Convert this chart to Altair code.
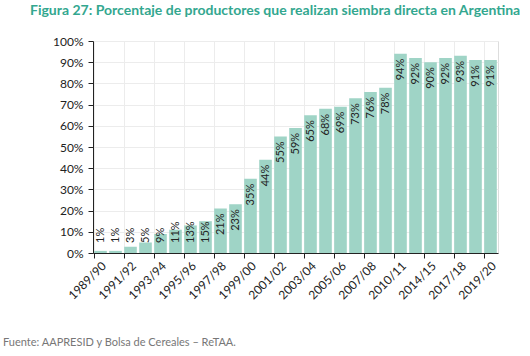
import altair as alt
import pandas as pd

seasons = ["1989/90", "1990/91", "1991/92", "1992/93", "1993/94", "1994/95",
           "1995/96", "1996/97", "1997/98", "1998/99", "1999/00", "2000/01",
           "2001/02", "2002/03", "2003/04", "2004/05", "2005/06", "2006/07",
           "2007/08", "2008/09", "2010/11", "2012/13", "2014/15", "2016/17",
           "2017/18", "2018/19", "2019/20"]
percent = [1, 1, 3, 5, 9, 11, 13, 15, 21, 23, 35, 44, 55, 59, 65, 68, 69, 73,
           76, 78, 94, 92, 90, 92, 93, 91, 91]
shown_labels = ["1989/90", "1991/92", "1993/94", "1995/96", "1997/98", "1999/00",
                "2001/02", "2003/04", "2005/06", "2007/08", "2010/11", "2014/15",
                "2017/18", "2019/20"]
y_ticks = [0, 0.1, 0.2, 0.3, 0.4, 0.5, 0.6, 0.7, 0.8, 0.9, 1.0]

title_text = "Figura 27: Porcentaje de productores que realizan siembra directa en Argentina"
footer_text = "Fuente: AAPRESID y Bolsa de Cereales \u2013 ReTAA."

df = pd.DataFrame({"season": seasons, "value": [p / 100 for p in percent]})

arr = "[" + ",".join("'" + s + "'" for s in shown_labels) + "]"
test = f"indexof({arr}, datum.value) >= 0"

x_enc = alt.X(
    "season:N", sort=None, title=None,
    scale=alt.Scale(paddingInner=0.16, paddingOuter=0.08),
    axis=alt.Axis(
        bandPosition=0,
        labelAngle=-45,
        labelExpr=f"{test} ? datum.label : ''",
        tickOpacity={"condition": {"test": test, "value": 1}, "value": 0},
        gridOpacity={"condition": {"test": test, "value": 1}, "value": 0},
        grid=True, gridColor="#ececec",
        tickSize=5, tickColor="#222", domainColor="#222",
        labelFont="Lato", labelFontSize=12, labelColor="#222",
        labelPadding=2, labelOverlap=False,
    ),
)


def y_axis():
    return alt.Axis(
        format=".0%", values=y_ticks,
        grid=True, gridColor="#ececec",
        tickSize=5, tickColor="#222", domainColor="#222",
        labelFont="Lato", labelFontSize=12, labelColor="#222",
        labelPadding=5, labelOverlap=False, labelFlush=False,
    )


y_scale = alt.Scale(domain=[0, 1])

base = alt.Chart(df).encode(x=x_enc)

bars = base.mark_bar(color="#9fd4c6").encode(
    y=alt.Y("value:Q", title=None, scale=y_scale, axis=y_axis()))

labels_big = base.transform_filter("datum.value >= 0.2").mark_text(
    angle=270, align="right", baseline="middle", dx=-5,
    font="Lato", fontSize=11, color="#222",
).encode(y=alt.Y("value:Q", title=None, scale=y_scale, axis=y_axis()),
         text=alt.Text("value:Q", format=".0%"))

labels_small = base.transform_filter("datum.value < 0.2").mark_text(
    angle=270, align="left", baseline="middle", dx=10,
    font="Lato", fontSize=11, color="#222",
).encode(y=alt.Y(datum=0, type="quantitative", title=None, scale=y_scale, axis=y_axis()),
         text=alt.Text("value:Q", format=".0%"))

footer = alt.Chart(pd.DataFrame({"t": [footer_text]})).mark_text(
    align="left", baseline="middle", font="Lato", fontSize=11, color="#777",
).encode(text="t:N", x=alt.value(-90), y=alt.value(302))

chart = alt.layer(bars, labels_big, labels_small, footer).properties(
    width=405, height=212,
    title=alt.TitleParams(
        title_text, anchor="start", frame="group", dx=-63, offset=17,
        font="Lato", fontSize=14, fontWeight="bold", color="#33a78f",
    ),
    autosize=alt.AutoSizeParams(type="none"),
    padding={"left": 93, "top": 41, "right": 32, "bottom": 103},
).configure_view(stroke="#444", strokeWidth=1).configure(background="white")

chart.save("out.html", embed_options={"renderer": "svg", "actions": False})
